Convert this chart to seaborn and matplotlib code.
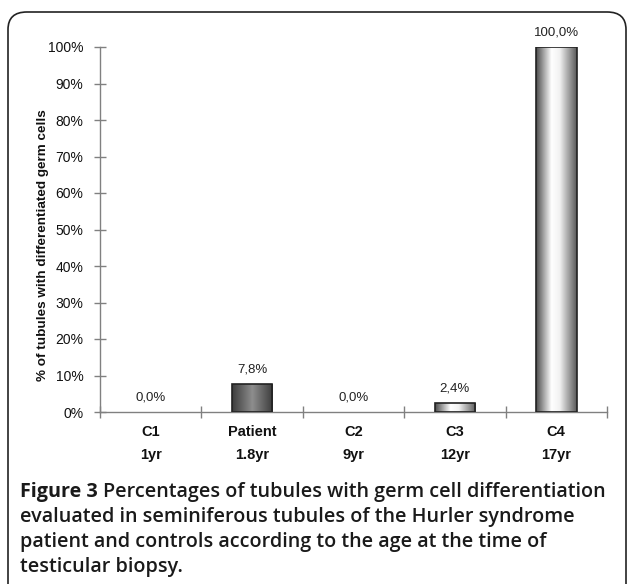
import numpy as np
import seaborn as sns
import matplotlib.pyplot as plt
from matplotlib.colors import LinearSegmentedColormap
from matplotlib.patches import FancyBboxPatch

# data
groups = ['C1', 'Patient', 'C2', 'C3', 'C4']
ages = ['1yr', '1.8yr', '9yr', '12yr', '17yr']
percentValues = [0.0, 7.8, 0.0, 2.4, 100.0]
valueLabels = ['0,0%', '7,8%', '0,0%', '2,4%', '100,0%']
yTicks = [0, 10, 20, 30, 40, 50, 60, 70, 80, 90, 100]

sns.set_style('white')
plt.rcParams['font.family'] = ['Liberation Sans', 'DejaVu Sans']

fig = plt.figure(figsize=(6.29, 5.84), dpi=100)
W, H = 629, 584
ax = fig.add_axes([100 / W, 1 - 412 / H, (607 - 100) / W, (412 - 47) / H])

tickLabels = [g + '\n' + a for g, a in zip(groups, ages)]
sns.barplot(x=tickLabels, y=percentValues, color='#888888', width=0.4,
            edgecolor='#222222', linewidth=1.2, ax=ax)

darkCmap = LinearSegmentedColormap.from_list(
    'dark', [(0, '#3c3c3c'), (0.5, '#8e8e8e'), (1, '#3c3c3c')])
lightCmap = LinearSegmentedColormap.from_list(
    'light', [(0, '#4c4c4c'), (0.38, '#ffffff'), (0.58, '#f2f2f2'), (1, '#5a5a5a')])
grad = np.linspace(0, 1, 200).reshape(1, -1)

for patch, grp in zip(ax.patches, groups):
    h = patch.get_height()
    if h <= 0:
        patch.set_visible(False)
        continue
    x0, w = patch.get_x(), patch.get_width()
    cmap = darkCmap if grp == 'Patient' else lightCmap
    img = ax.imshow(grad, cmap=cmap, extent=[x0, x0 + w, 0, h], aspect='auto',
                    zorder=2, interpolation='bilinear')
    img.set_clip_path(patch)
    patch.set_facecolor('none')
    patch.set_zorder(3)

for i, (v, lab) in enumerate(zip(percentValues, valueLabels)):
    ax.annotate(lab, (i, v), xytext=(0, 6), textcoords='offset points',
                ha='center', va='bottom', fontsize=9.5, color='#222222')

ax.set_xlim(-0.5, 4.5)
ax.set_ylim(0, 100)
ax.set_yticks(yTicks)
ax.set_yticklabels([f'{t}%' for t in yTicks], fontsize=10, color='#111111')
ax.tick_params(axis='y', direction='inout', length=8, width=1, color='#808080', pad=8, left=True)
ax.set_xticks(range(len(groups)))
ax.set_xticklabels(tickLabels, fontsize=10.5, fontweight='bold', color='#111111', linespacing=1.85)
ax.tick_params(axis='x', which='major', length=0, pad=9)
ax.set_xticks(np.arange(-0.5, 5, 1), minor=True)
ax.tick_params(axis='x', which='minor', direction='inout', length=8, width=1, color='#808080', bottom=True)

for s in ['top', 'right']:
    ax.spines[s].set_visible(False)
for s in ['left', 'bottom']:
    ax.spines[s].set_color('#808080')
    ax.spines[s].set_linewidth(1)

ax.set_ylabel('% of tubules with differentiated germ cells', fontsize=9.7,
              fontweight='bold', color='#111111')
ax.yaxis.set_label_coords(-51 / 507, (412 - 245) / 365)
ax.set_xlabel('')

# rounded frame
frame = FancyBboxPatch((8 / W, -0.05), (626 - 8) / W, 1 - 12 / H + 0.05,
                       boxstyle='round,pad=0,rounding_size=0.03',
                       transform=fig.transFigure, fill=False,
                       edgecolor='#222222', linewidth=1.2, clip_on=False)
fig.patches.append(frame)

# caption
capFont = ['Open Sans', 'DejaVu Sans']
capColor = '#1a1a1a'
capSize = 14.2
capLines = ['Percentages of tubules with germ cell differentiation',
            'evaluated in seminiferous tubules of the Hurler syndrome',
            'patient and controls according to the age at the time of',
            'testicular biopsy.']
x0 = 20 / W
yTop = 1 - 492 / H
t0 = fig.text(x0, yTop, 'Figure 3 ', fontsize=capSize, fontweight='bold', family=capFont,
              color=capColor, va='center')
fig.canvas.draw()
bb = t0.get_window_extent(renderer=fig.canvas.get_renderer())
fig.text(bb.x1 / W, yTop, capLines[0], fontsize=capSize, fontweight='semibold', family=capFont,
         color=capColor, va='center')
for k, line in enumerate(capLines[1:], start=1):
    fig.text(x0, 1 - (492 + 25 * k) / H, line, fontsize=capSize, fontweight='semibold',
             family=capFont, color=capColor, va='center')

fig.savefig('out.png', dpi=100)
